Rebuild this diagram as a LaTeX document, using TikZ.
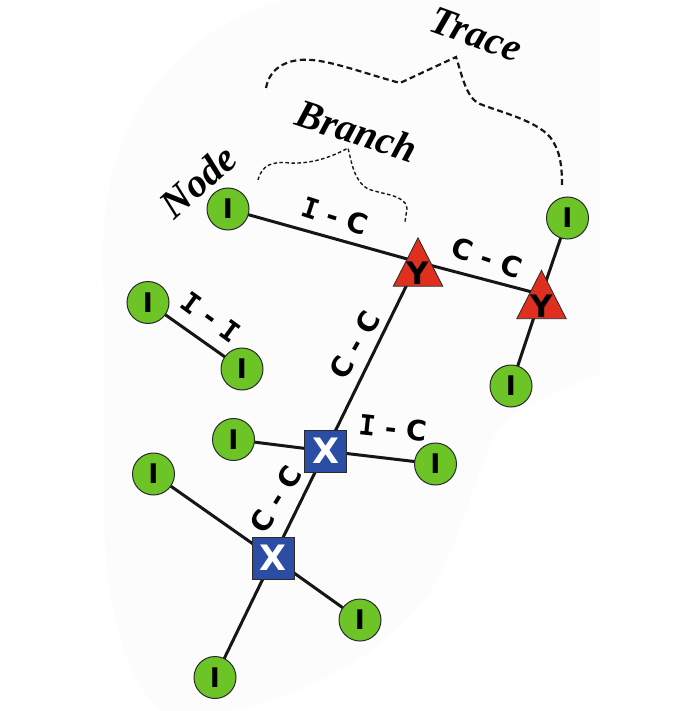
\documentclass[tikz,border=0pt]{standalone}
\usepackage{fontspec}
\setmainfont{Liberation Serif}
\newfontfamily\sansb{DejaVu Sans}
\newfontfamily\monob{DejaVu Sans Mono}
\newcommand\monoI{{\monob\bfseries I}}
\usetikzlibrary{backgrounds}
\definecolor{igreen}{HTML}{6CC427}
\definecolor{xblue}{HTML}{2B4EA4}
\definecolor{yred}{HTML}{DE2F1F}
\definecolor{outl}{HTML}{2A2A2A}
\definecolor{edgec}{HTML}{161616}
\definecolor{blobc}{HTML}{FCFCFC}
\begin{document}
\begin{tikzpicture}[x=1pt,y=-1pt,
  inode/.style={circle,fill=igreen,draw=outl,line width=1pt,minimum size=42pt,inner sep=0pt,font=\sansb\bfseries\fontsize{27}{27}\selectfont},
  xnode/.style={rectangle,fill=xblue,draw=outl,line width=1pt,minimum size=42pt,inner sep=0pt,text=white,font=\sansb\bfseries\fontsize{35}{35}\selectfont},
  ynode/.style={rectangle,minimum width=49pt,minimum height=48pt,inner sep=0pt},
  yfill/.style={fill=yred,draw=outl,line width=0.8pt,line join=miter},
  ytext/.style={inner sep=0pt,font=\sansb\bfseries\fontsize{31}{31}\selectfont},
  conn/.style={draw=edgec,line width=3pt},
  elab/.style={inner sep=0pt,font=\sansb\bfseries\fontsize{28}{28}\selectfont},
  word/.style={inner sep=0pt,font=\bfseries\itshape\fontsize{40}{40}\selectfont},
  tracebr/.style={draw=edgec,line width=2.2pt,dash pattern=on 6pt off 3.5pt},
  branchbr/.style={draw=edgec,line width=1.4pt,dash pattern=on 3.5pt off 2.5pt}]
\useasboundingbox (0,0) rectangle (700,711);

% nodes
\node[inode] (i1) at (228,209) {I};
\node[ynode] (y1) at (418,262) {};
\node[ynode] (y2) at (541.5,294.5) {};
\node[inode] (itr) at (567.5,218) {I};
\node[inode] (iy2) at (511,386) {I};
\node[inode] (ia) at (148,302.5) {I};
\node[inode] (ib) at (242,369) {I};
\node[xnode] (x1) at (325.5,451) {X};
\node[inode] (ix1l) at (233.5,439.5) {I};
\node[inode] (ix1r) at (435.5,464) {I};
\node[xnode] (x2) at (273,558) {X};
\node[inode] (ix2l) at (153.5,474) {I};
\node[inode] (ix2r) at (360,620) {I};
\node[inode] (ix2b) at (215,677.5) {I};

% triangles
\path[yfill] (y1.north) -- (y1.south east) -- (y1.south west) -- cycle;
\path[yfill] (y2.north) -- (y2.south east) -- (y2.south west) -- cycle;
\node[ytext] (y1t) at ([yshift=-11.5pt]y1.center) {Y};
\node[ytext] (y2t) at ([yshift=-11.5pt]y2.center) {Y};

\begin{pgfonlayer}{background}
  \fill[white] (0,0) rectangle (700,711);
  \fill[blobc] (283,0) -- (600,0) -- (600,373)
    .. controls (560,392) and (510,405) .. (492,440)
    .. controls (475,480) and (462,525) .. (447,560)
    .. controls (420,630) and (330,690) .. (230,711)
    -- (163,711)
    .. controls (130,690) and (110,620) .. (105,540)
    -- (103,250)
    .. controls (103,150) and (150,40) .. (283,0) -- cycle;
  \draw[conn] (i1.center) -- (y1.center);
  \draw[conn] (y1.center) -- (y2.center);
  \draw[conn] (y2.center) -- (itr.center);
  \draw[conn] (y2.center) -- (iy2.center);
  \draw[conn] (ia.center) -- (ib.center);
  \draw[conn] (y1.center) -- (x1.center);
  \draw[conn] (ix1l.center) -- (x1.center);
  \draw[conn] (x1.center) -- (ix1r.center);
  \draw[conn] (x1.center) -- (x2.center);
  \draw[conn] (ix2l.center) -- (x2.center);
  \draw[conn] (x2.center) -- (ix2r.center);
  \draw[conn] (x2.center) -- (ix2b.center);
\end{pgfonlayer}

% edge labels
\node[elab,rotate=-18] (l1) at (335,216) {\monoI\ - C};
\node[elab,rotate=-19] (l2) at (487,258) {C - C};
\node[elab,rotate=-36] (l3) at (211,317) {\monoI\ - \monoI};
\node[elab,rotate=60] (l4) at (355,345) {C - C};
\node[elab,rotate=-6] (l5) at (393,428) {\monoI\ - C};
\node[elab,rotate=58] (l6) at (276,499) {C - C};

% words
\node[word,rotate=42] (wnode) at (198,181) {Node};
\node[word,rotate=-18] (wbranch) at (357,131) {Branch};
\node[word,rotate=-20] (wtrace) at (476,34) {Trace};

% braces
\draw[tracebr] (266,88) .. controls (270,66) and (290,58) .. (312,60)
  .. controls (335,62) and (370,75) .. (400,83) -- (456,57)
  .. controls (462,75) and (466,98) .. (480,104)
  .. controls (500,112) and (535,120) .. (550,137)
  .. controls (560,150) and (562,165) .. (562,185);
\draw[branchbr] (258,180) .. controls (262,165) and (272,161) .. (290,163)
  .. controls (310,164) and (330,158) .. (348,148)
  .. controls (352,165) and (355,182) .. (368,189)
  .. controls (385,195) and (405,195) .. (407,208) -- (405,222);
\end{tikzpicture}
\end{document}
